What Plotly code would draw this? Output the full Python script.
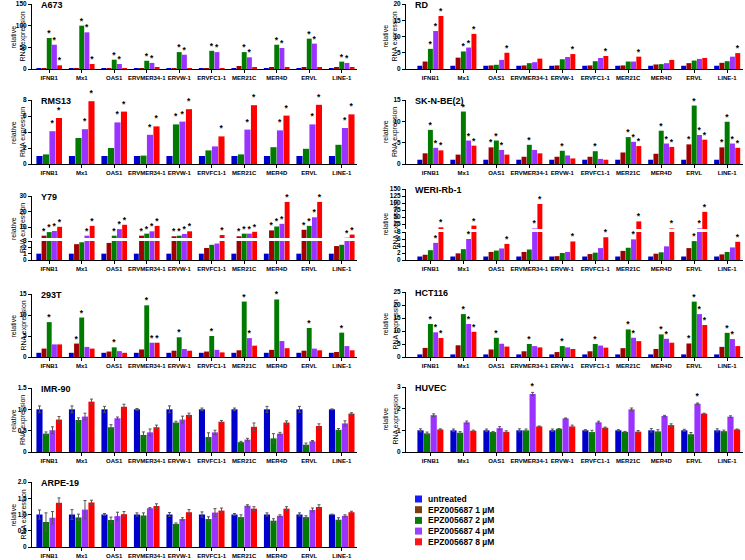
import plotly.graph_objects as go

W, H = 745, 560

categories = ["IFNB1", "Mx1", "OAS1", "ERVMER34-1", "ERVW-1", "ERVFC1-1",
              "MER21C", "MER4D", "ERVL", "LINE-1"]
series_names = ["untreated", "EPZ005687 1 \u00b5M", "EPZ005687 2 \u00b5M",
                "EPZ005687 4 \u00b5M", "EPZ005687 8 \u00b5M"]

# ---------------- data ----------------
A673_untreated = [1, 1, 1, 1, 1, 1, 1, 1, 1, 1]
A673_epz1 = [1.5, 2, 1, 2, 1, 1.5, 7, 3, 4, 3]
A673_epz2 = [71.5, 100, 21.5, 19, 39, 42, 39, 56, 70, 17]
A673_epz4 = [56, 84.6, 11.5, 14, 33, 39, 27, 48.5, 58.5, 14]
A673_epz8 = [8.5, 11.5, 2, 3.8, 2, 2, 3, 3, 4, 4]
A673_star2 = [1, 1, 1, 1, 1, 1, 1, 1, 1, 1]
A673_star4 = [1, 1, 1, 1, 1, 1, 1, 1, 1, 1]
A673_star8 = [1, 1, 0, 0, 0, 0, 0, 0, 0, 0]

RD_untreated = [1, 1, 1, 1, 1, 1, 1, 1, 1, 1]
RD_epz1 = [2.3, 3.5, 1.1, 1.1, 1.1, 1.1, 1.1, 1.4, 1.8, 1.9]
RD_epz2 = [6.2, 5.4, 1.3, 1.8, 3.0, 2.4, 2.3, 1.5, 2.6, 2.4]
RD_epz4 = [11.7, 6.6, 2.8, 2.1, 3.7, 3.4, 2.3, 1.8, 3.1, 3.8]
RD_epz8 = [16.3, 10.8, 5.0, 3.2, 4.6, 4.0, 3.8, 2.8, 3.4, 4.9]
RD_star2 = [1, 1, 0, 0, 0, 0, 0, 0, 0, 0]
RD_star4 = [1, 1, 0, 0, 0, 0, 0, 0, 0, 0]
RD_star8 = [1, 1, 1, 0, 1, 1, 1, 0, 0, 1]

RMS13_untreated = [1, 1, 1, 1, 1, 1, 1, 1, 1, 1]
RMS13_epz2 = [1.2, 3.25, 2.0, 1.05, 4.95, 1.7, 1.2, 2.1, 1.9, 2.4]
RMS13_epz4 = [4.1, 4.35, 5.2, 3.65, 5.3, 2.2, 4.3, 4.2, 4.95, 4.5]
RMS13_epz8 = [5.75, 7.85, 6.55, 4.7, 6.85, 3.45, 7.35, 6.05, 7.4, 6.2]
RMS13_star2 = [0, 0, 0, 0, 1, 0, 0, 0, 0, 0]
RMS13_star4 = [1, 1, 1, 1, 1, 0, 1, 1, 1, 1]
RMS13_star8 = [1, 1, 1, 1, 1, 1, 1, 1, 1, 1]

SKNBE_untreated = [1, 1, 1, 1, 1, 1, 1, 1, 1, 1]
SKNBE_epz1 = [2.5, 2.2, 3.9, 1.7, 1.7, 1.7, 2.7, 2.4, 4.6, 3.9]
SKNBE_epz2 = [8.0, 12.3, 5.5, 4.5, 3.1, 3.0, 6.3, 7.8, 13.7, 9.9]
SKNBE_epz4 = [3.8, 5.5, 3.3, 3.3, 2.0, 1.2, 5.2, 4.8, 6.8, 4.8]
SKNBE_epz8 = [3.2, 4.3, 2.2, 2.5, 1.3, 1.0, 4.2, 4.0, 5.7, 3.8]
SKNBE_star1 = [0, 0, 1, 0, 0, 0, 0, 0, 1, 1]
SKNBE_star2 = [1, 1, 1, 1, 1, 1, 1, 1, 1, 1]
SKNBE_star4 = [1, 1, 1, 0, 0, 0, 1, 1, 1, 1]
SKNBE_star8 = [1, 1, 0, 0, 0, 0, 1, 1, 1, 1]

Y79_untreated = [1, 1, 1, 1, 1, 1, 1, 1, 1, 1]
Y79_epz1 = [4.5, 2.5, 2.7, 4.5, 4.1, 1.9, 4.1, 7.9, 8.3, 2.2]
Y79_epz2 = [6.8, 2.8, 4.5, 5.8, 4.5, 2.4, 5.8, 10.4, 10.8, 2.4]
Y79_epz4 = [7.5, 4.5, 8.7, 7.3, 5.6, 2.6, 5.8, 12.1, 16.3, 3.2]
Y79_epz8 = [10.2, 10.8, 11.5, 10.8, 7.3, 4.9, 7.0, 26.2, 26.2, 5.2]
Y79_star1 = [1, 0, 0, 1, 1, 0, 1, 1, 1, 0]
Y79_star2 = [1, 0, 1, 1, 1, 0, 1, 1, 1, 0]
Y79_star4 = [1, 1, 1, 1, 1, 0, 1, 1, 1, 1]
Y79_star8 = [1, 1, 1, 1, 1, 1, 1, 1, 1, 1]

WERI_untreated = [1, 1, 1, 1, 1, 1, 1, 1, 1, 1]
WERI_epz1 = [1.5, 1.9, 2.3, 2.3, 1.1, 1.7, 2.6, 1.8, 3.4, 1.6]
WERI_epz2 = [2.8, 3.1, 2.7, 3.0, 2.0, 2.1, 3.5, 2.2, 5.4, 2.3]
WERI_epz4 = [4.9, 6.0, 3.3, 10, 2.3, 3.4, 5.9, 3.9, 10, 3.6]
WERI_epz8 = [14, 20, 4.6, 97, 5.3, 6.5, 35, 10, 69, 5.2]
WERI_star2 = [0, 0, 0, 0, 0, 0, 0, 0, 1, 0]
WERI_star4 = [1, 1, 0, 1, 0, 0, 1, 0, 1, 0]
WERI_star8 = [1, 1, 1, 1, 1, 1, 1, 1, 1, 1]

T293_untreated = [1, 1, 1, 1, 1, 1, 1, 1, 1, 1]
T293_epz1 = [2.0, 3.2, 1.3, 1.8, 1.5, 1.3, 1.6, 1.7, 1.5, 1.2]
T293_epz2 = [8.3, 9.4, 2.3, 12.3, 4.7, 5.0, 13.2, 13.7, 6.9, 5.8]
T293_epz4 = [3.0, 2.4, 1.4, 3.4, 1.9, 1.7, 4.5, 3.8, 2.0, 2.6]
T293_epz8 = [3.0, 2.0, 1.0, 3.4, 1.5, 1.1, 2.7, 2.1, 1.6, 1.6]
T293_star1 = [0, 1, 0, 0, 0, 0, 0, 0, 0, 0]
T293_star2 = [1, 1, 1, 1, 1, 1, 1, 1, 1, 1]
T293_star4 = [0, 0, 0, 1, 0, 0, 1, 0, 0, 0]
T293_star8 = [0, 0, 0, 1, 0, 0, 0, 0, 0, 0]

HCT_untreated = [1, 1, 1, 1, 1, 1, 1, 1, 1, 1]
HCT_epz1 = [3.5, 4.5, 2.9, 2.2, 1.9, 2.2, 3.4, 3.1, 5.2, 3.9]
HCT_epz2 = [12.7, 16.5, 7.4, 5.0, 4.2, 5.0, 10.6, 8.7, 21.3, 9.3]
HCT_epz4 = [9.5, 12.7, 5.1, 4.2, 3.7, 4.4, 7.4, 7.0, 16.5, 6.9]
HCT_epz8 = [7.3, 9.7, 4.0, 3.7, 3.1, 3.6, 6.1, 5.5, 12.3, 4.2]
HCT_star1 = [0, 0, 0, 0, 0, 0, 0, 0, 1, 0]
HCT_star2 = [1, 1, 1, 1, 1, 1, 1, 1, 1, 1]
HCT_star4 = [1, 1, 0, 0, 0, 0, 1, 1, 1, 1]
HCT_star8 = [1, 1, 0, 0, 0, 0, 0, 0, 1, 0]

IMR_untreated = [1, 1, 1, 1, 1, 1, 1, 1, 1, 1]
IMR_epz2 = [0.43, 0.75, 0.58, 0.40, 0.69, 0.35, 0.23, 0.32, 0.17, 0.52]
IMR_epz4 = [0.51, 0.83, 0.79, 0.46, 0.76, 0.46, 0.29, 0.43, 0.25, 0.67]
IMR_epz8 = [0.76, 1.18, 1.06, 0.58, 0.87, 0.71, 0.59, 0.69, 0.61, 0.90]
IMR_err0 = [0.08, 0.08, 0.07, 0.02, 0.08, 0.03, 0.03, 0.07, 0.07, 0.01]
IMR_err2 = [0.04, 0.05, 0.06, 0.07, 0.03, 0.10, 0.02, 0.11, 0.04, 0.03]
IMR_err4 = [0.08, 0.08, 0.03, 0.08, 0.08, 0.05, 0.03, 0.03, 0.02, 0.06]
IMR_err8 = [0.07, 0.06, 0.06, 0.05, 0.04, 0.03, 0.09, 0.04, 0.05, 0.02]

HUVEC_untreated = [1, 1, 1, 1, 1, 1, 1, 1, 1, 1]
HUVEC_epz2 = [0.86, 0.89, 0.92, 1.0, 1.07, 0.92, 0.93, 0.95, 0.82, 0.96]
HUVEC_epz4 = [1.70, 1.37, 1.10, 2.68, 1.55, 1.37, 1.97, 1.66, 2.23, 1.63]
HUVEC_epz8 = [1.04, 0.98, 0.93, 1.18, 1.18, 1.12, 0.94, 1.24, 1.77, 1.04]
HUVEC_err0 = [0.07, 0.06, 0.06, 0.07, 0.06, 0.03, 0.03, 0.08, 0.05, 0.07]
HUVEC_err2 = [0.06, 0.05, 0.03, 0.06, 0.01, 0.08, 0.02, 0.08, 0.08, 0.05]
HUVEC_err4 = [0.06, 0.06, 0.07, 0.07, 0.02, 0.05, 0.06, 0.03, 0.03, 0.04]
HUVEC_err8 = [0.03, 0.03, 0.05, 0.02, 0.06, 0.03, 0.05, 0.06, 0.02, 0.02]
HUVEC_star4 = [0, 0, 0, 1, 0, 0, 0, 0, 1, 0]

ARPE_untreated = [1, 1, 1, 1, 1, 1, 1, 1, 1, 1]
ARPE_epz2 = [0.77, 0.91, 0.83, 0.97, 0.71, 0.86, 0.92, 0.81, 0.92, 0.84]
ARPE_epz4 = [0.90, 1.15, 0.95, 1.19, 0.86, 1.06, 1.27, 0.96, 1.14, 0.96]
ARPE_epz8 = [1.36, 1.37, 1.01, 1.26, 1.07, 1.12, 1.18, 1.18, 1.23, 1.07]
ARPE_err0 = [0.14, 0.15, 0.03, 0.05, 0.06, 0.08, 0.03, 0.05, 0.05, 0.01]
ARPE_err2 = [0.28, 0.10, 0.09, 0.08, 0.03, 0.07, 0.07, 0.06, 0.04, 0.06]
ARPE_err4 = [0.19, 0.28, 0.12, 0.02, 0.04, 0.12, 0.03, 0.03, 0.06, 0.03]
ARPE_err8 = [0.15, 0.07, 0.08, 0.07, 0.08, 0.08, 0.06, 0.06, 0.07, 0.03]

# ---------------- style / layout config ----------------
BAR_COLORS = ["#0000CC", "#A00000", "#007A00", "#9A33FF", "#FF0000"]
LEGEND_COLORS = ["#1A1AFF", "#7A3C10", "#0A7A0A", "#9B40FF", "#FF1515"]
FONT = "Liberation Sans, Arial, sans-serif"

COLS = [dict(x0=32, x1=357, xr=[-0.53, 9.47], ytitle_x=(13, 23)),
        dict(x0=406, x1=743, xr=[-0.74, 9.48], ytitle_x=(385, 395))]

PANELS = [
    dict(title="A673", col=0,
         series={0: A673_untreated, 1: A673_epz1, 2: A673_epz2, 3: A673_epz4, 4: A673_epz8},
         stars={2: A673_star2, 3: A673_star4, 4: A673_star8}, errors={},
         segs=[dict(r=[0, 150], top=4, bot=69, tv=[0, 50, 100, 150])]),
    dict(title="RD", col=1,
         series={0: RD_untreated, 1: RD_epz1, 2: RD_epz2, 3: RD_epz4, 4: RD_epz8},
         stars={2: RD_star2, 3: RD_star4, 4: RD_star8}, errors={},
         segs=[dict(r=[0, 20], top=4, bot=69, tv=[0, 5, 10, 15, 20])]),
    dict(title="RMS13", col=0,
         series={0: RMS13_untreated, 2: RMS13_epz2, 3: RMS13_epz4, 4: RMS13_epz8},
         stars={2: RMS13_star2, 3: RMS13_star4, 4: RMS13_star8}, errors={},
         segs=[dict(r=[0, 8], top=100, bot=164, tv=[0, 2, 4, 6, 8])]),
    dict(title="SK-N-BE(2)", col=1,
         series={0: SKNBE_untreated, 1: SKNBE_epz1, 2: SKNBE_epz2, 3: SKNBE_epz4, 4: SKNBE_epz8},
         stars={1: SKNBE_star1, 2: SKNBE_star2, 3: SKNBE_star4, 4: SKNBE_star8}, errors={},
         segs=[dict(r=[0, 15], top=100, bot=164, tv=[0, 5, 10, 15])]),
    dict(title="Y79", col=0,
         series={0: Y79_untreated, 1: Y79_epz1, 2: Y79_epz2, 3: Y79_epz4, 4: Y79_epz8},
         stars={1: Y79_star1, 2: Y79_star2, 3: Y79_star4, 4: Y79_star8}, errors={},
         segs=[dict(r=[0, 3], top=241, bot=260, tv=[0, 1, 2, 3]),
               dict(r=[3, 30], top=196, bot=238, tv=[10, 20, 30])]),
    dict(title="WERI-Rb-1", col=1,
         series={0: WERI_untreated, 1: WERI_epz1, 2: WERI_epz2, 3: WERI_epz4, 4: WERI_epz8},
         stars={2: WERI_star2, 3: WERI_star4, 4: WERI_star8}, errors={},
         segs=[dict(r=[0, 8], top=232, bot=260, tv=[0, 2, 4, 6, 8]),
               dict(r=[8, 150], top=189, bot=229, tv=[25, 50, 75, 100, 125, 150])]),
    dict(title="293T", col=0,
         series={0: T293_untreated, 1: T293_epz1, 2: T293_epz2, 3: T293_epz4, 4: T293_epz8},
         stars={1: T293_star1, 2: T293_star2, 3: T293_star4, 4: T293_star8}, errors={},
         segs=[dict(r=[0, 15], top=294, bot=357, tv=[0, 5, 10, 15])]),
    dict(title="HCT116", col=1,
         series={0: HCT_untreated, 1: HCT_epz1, 2: HCT_epz2, 3: HCT_epz4, 4: HCT_epz8},
         stars={1: HCT_star1, 2: HCT_star2, 3: HCT_star4, 4: HCT_star8}, errors={},
         segs=[dict(r=[0, 25], top=292, bot=357, tv=[0, 5, 10, 15, 20, 25])]),
    dict(title="IMR-90", col=0,
         series={0: IMR_untreated, 2: IMR_epz2, 3: IMR_epz4, 4: IMR_epz8},
         stars={}, errors={0: IMR_err0, 2: IMR_err2, 3: IMR_err4, 4: IMR_err8},
         segs=[dict(r=[0, 1.5], top=388, bot=452, tv=[0, 0.5, 1.0, 1.5],
                    tt=["0", "0.5", "1.0", "1.5"])]),
    dict(title="HUVEC", col=1,
         series={0: HUVEC_untreated, 2: HUVEC_epz2, 3: HUVEC_epz4, 4: HUVEC_epz8},
         stars={3: HUVEC_star4}, errors={0: HUVEC_err0, 2: HUVEC_err2, 3: HUVEC_err4, 4: HUVEC_err8},
         segs=[dict(r=[0, 3], top=387, bot=452, tv=[0, 1, 2, 3])]),
    dict(title="ARPE-19", col=0,
         series={0: ARPE_untreated, 2: ARPE_epz2, 3: ARPE_epz4, 4: ARPE_epz8},
         stars={}, errors={0: ARPE_err0, 2: ARPE_err2, 3: ARPE_err4, 4: ARPE_err8},
         segs=[dict(r=[0, 2], top=482, bot=547, tv=[0, 0.5, 1.0, 1.5, 2.0],
                    tt=["0", "0.5", "1.0", "1.5", "2.0"])]),
]


def px_x(p):
    return p / W


def px_y(p):
    return 1 - p / H


fig = go.Figure()
layout = dict(template="none", width=W, height=H, margin=dict(l=0, r=0, t=0, b=0, autoexpand=False),
              paper_bgcolor="white", plot_bgcolor="rgba(0,0,0,0)",
              barmode="group", bargap=0.2, bargroupgap=0.06,
              showlegend=False, font=dict(family=FONT, color="black"))
annotations = []
shapes = []

k = 0
for panel in PANELS:
    col = COLS[panel["col"]]
    nseg = len(panel["segs"])
    for si, seg in enumerate(panel["segs"]):
        k += 1
        sfx = "" if k == 1 else str(k)
        xname, yname = "x" + sfx, "y" + sfx
        is_base = (si == 0)
        layout["xaxis" + sfx] = dict(
            domain=[px_x(col["x0"]), px_x(col["x1"])], range=col["xr"],
            anchor=yname, type="category", visible=is_base, automargin=False,
            showline=True, linecolor="black", linewidth=1,
            ticks="outside", ticklen=3, tickwidth=1, tickcolor="black",
            tickangle=0, ticklabelstandoff=0,
            tickfont=dict(size=6, family=FONT, weight="bold"),
            showgrid=False, zeroline=False, fixedrange=True)
        yax = dict(
            domain=[px_y(seg["bot"]), px_y(seg["top"])], range=seg["r"],
            anchor=xname, showline=True, linecolor="black", linewidth=1, automargin=False,
            ticks="outside", ticklen=3, tickwidth=1, tickcolor="black",
            tickvals=seg["tv"], tickfont=dict(size=6.5, family=FONT, weight="bold"),
            showgrid=False, zeroline=False, fixedrange=True)
        if "tt" in seg:
            yax["ticktext"] = seg["tt"]
        layout["yaxis" + sfx] = yax

        lower_break = panel["segs"][0]["r"][1] if nseg > 1 else None
        for j, vals in panel["series"].items():
            err = panel["errors"].get(j)
            bar = dict(x=categories, y=vals, xaxis=xname, yaxis=yname,
                       offsetgroup=str(j), marker=dict(color=BAR_COLORS[j], line=dict(width=0)),
                       showlegend=False, hoverinfo="skip")
            if err is not None:
                bar["error_y"] = dict(type="data", array=err, color="#555555",
                                      thickness=1, width=1.5)
            fig.add_trace(go.Bar(**bar))
            st = panel["stars"].get(j)
            if st is not None:
                ys, txt = [], []
                for v, s in zip(vals, st):
                    if nseg > 1:
                        inseg = (v <= lower_break) if si == 0 else (v > lower_break)
                    else:
                        inseg = True
                    if s and inseg:
                        ys.append(v)
                        txt.append("*")
                    else:
                        ys.append(None)
                        txt.append("")
                fig.add_trace(go.Bar(
                    x=categories, y=ys, text=txt, textposition="outside",
                    textangle=0, constraintext="none", cliponaxis=False,
                    textfont=dict(size=8.5, color="black", family=FONT, weight="bold"),
                    xaxis=xname, yaxis=yname, offsetgroup=str(j),
                    marker=dict(color="rgba(0,0,0,0)", line=dict(width=0)),
                    showlegend=False, hoverinfo="skip"))

    top = min(s["top"] for s in panel["segs"])
    bot = max(s["bot"] for s in panel["segs"])
    # panel title
    annotations.append(dict(text="<b>%s</b>" % panel["title"], x=px_x(col["x0"] + 7),
                            y=px_y(top + 1), xref="paper", yref="paper",
                            xanchor="left", yanchor="middle", showarrow=False,
                            font=dict(size=9, family=FONT)))
    # y-axis title (two lines)
    ymid = px_y((top + bot) / 2)
    for txt, xx in zip(["relative", "RNA expression"], col["ytitle_x"]):
        annotations.append(dict(text=txt, x=px_x(xx), y=ymid, xref="paper", yref="paper",
                                xanchor="center", yanchor="middle", textangle=-90,
                                showarrow=False, font=dict(size=7, family=FONT)))

# legend (manual)
LEG_X = 415
LEG_Y0 = 499
LEG_DY = 10.7
for i, name in enumerate(series_names):
    cy = LEG_Y0 + i * LEG_DY
    shapes.append(dict(type="rect", xref="paper", yref="paper",
                       x0=px_x(LEG_X), x1=px_x(LEG_X + 7), y0=px_y(cy + 3.5), y1=px_y(cy - 3.5),
                       fillcolor=LEGEND_COLORS[i], line=dict(width=0)))
    annotations.append(dict(text="<b>%s</b>" % name, x=px_x(LEG_X + 11), y=px_y(cy),
                            xref="paper", yref="paper", xanchor="left", yanchor="middle",
                            showarrow=False, font=dict(size=8.5, family=FONT)))

layout["annotations"] = annotations
layout["shapes"] = shapes
fig.update_layout(**layout)
fig.write_html("out.html", config={"displayModeBar": False},
               post_script="document.body.style.margin='0';document.body.style.padding='0';")
